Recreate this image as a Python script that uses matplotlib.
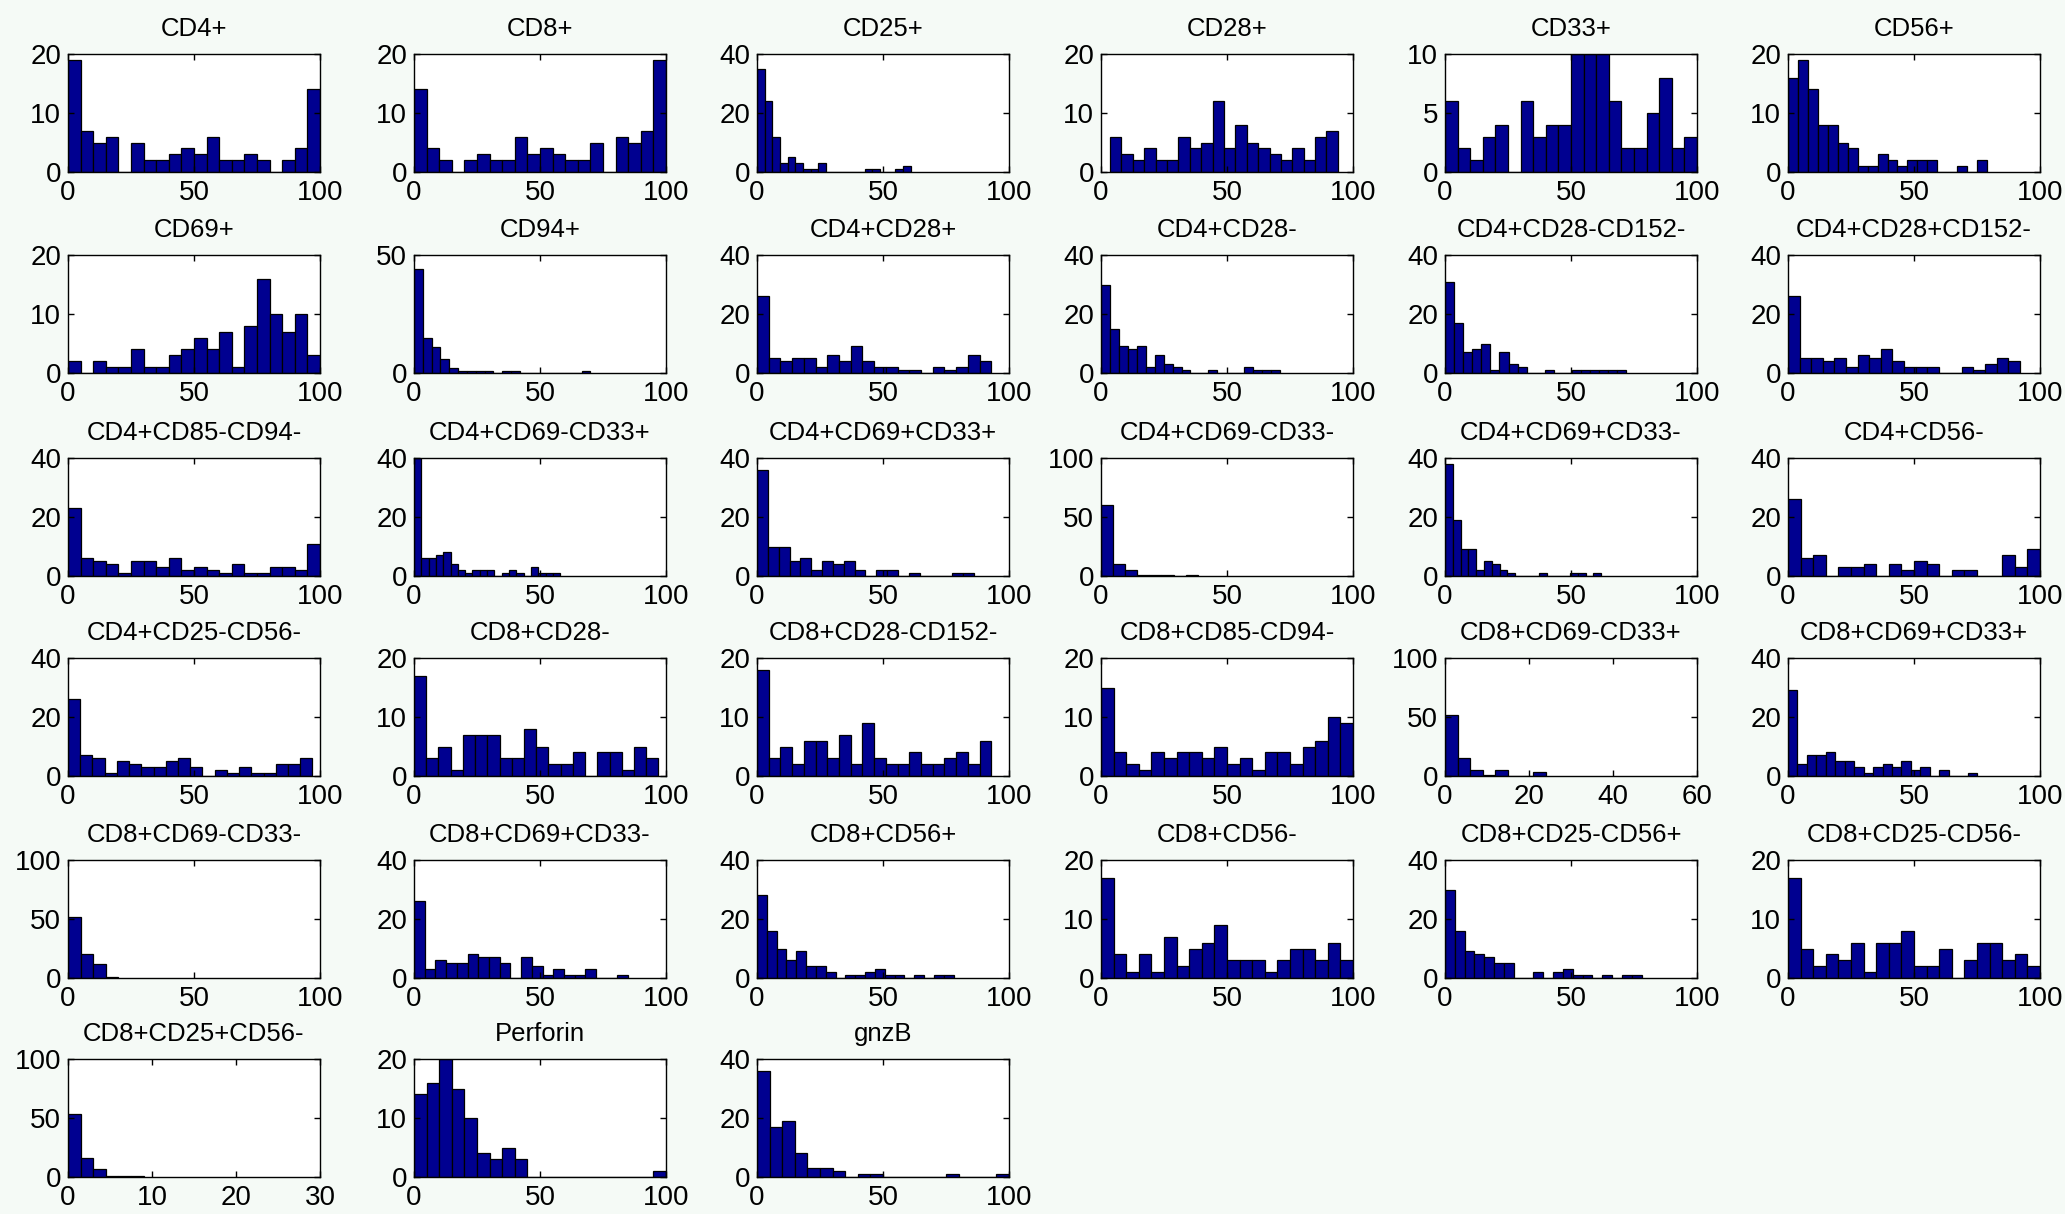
import numpy as np
import matplotlib
matplotlib.use('Agg')
import matplotlib.pyplot as plt

# histogram titles, in grid order (6 per row)
titles = ['CD4+', 'CD8+', 'CD25+', 'CD28+', 'CD33+', 'CD56+',
          'CD69+', 'CD94+', 'CD4+CD28+', 'CD4+CD28-', 'CD4+CD28-CD152-', 'CD4+CD28+CD152-',
          'CD4+CD85-CD94-', 'CD4+CD69-CD33+', 'CD4+CD69+CD33+', 'CD4+CD69-CD33-', 'CD4+CD69+CD33-', 'CD4+CD56-',
          'CD4+CD25-CD56-', 'CD8+CD28-', 'CD8+CD28-CD152-', 'CD8+CD85-CD94-', 'CD8+CD69-CD33+', 'CD8+CD69+CD33+',
          'CD8+CD69-CD33-', 'CD8+CD69+CD33-', 'CD8+CD56+', 'CD8+CD56-', 'CD8+CD25-CD56+', 'CD8+CD25-CD56-',
          'CD8+CD25+CD56-', 'Perforin', 'gnzB']

# bin counts
counts = [
    [19, 7, 5, 6, 0, 5, 2, 2, 3, 4, 3, 6, 2, 2, 3, 2, 0, 2, 4, 14],
    [14, 4, 2, 0, 2, 3, 2, 2, 6, 3, 4, 3, 2, 2, 5, 0, 6, 5, 7, 19],
    [35, 24, 12, 3, 5, 3, 1, 1, 3, 0, 0, 0, 0, 0, 1, 1, 0, 0, 1, 2],
    [6, 3, 2, 4, 2, 2, 6, 4, 5, 12, 4, 8, 5, 4, 3, 2, 4, 2, 6, 7],
    [6, 2, 1, 3, 4, 0, 6, 3, 4, 4, 10, 10, 10, 6, 2, 2, 5, 8, 2, 3],
    [16, 19, 14, 8, 8, 5, 4, 1, 1, 3, 2, 1, 2, 2, 2, 0, 0, 1, 0, 2],
    [2, 0, 2, 1, 1, 4, 1, 1, 3, 4, 6, 4, 7, 1, 8, 16, 10, 7, 10, 3],
    [44, 15, 11, 6, 2, 1, 1, 1, 1, 0, 1, 1, 0, 0, 0, 0, 0, 0, 0, 1],
    [26, 5, 4, 5, 5, 2, 6, 4, 9, 4, 2, 2, 1, 1, 0, 2, 1, 2, 6, 4],
    [30, 15, 9, 8, 9, 2, 6, 3, 2, 1, 0, 0, 1, 0, 0, 0, 2, 1, 1, 1],
    [31, 17, 7, 8, 10, 1, 7, 3, 2, 0, 0, 1, 0, 0, 1, 1, 1, 1, 1, 1],
    [26, 5, 5, 4, 5, 2, 6, 5, 8, 4, 2, 2, 2, 0, 0, 2, 1, 3, 5, 4],
    [23, 6, 5, 4, 1, 5, 5, 3, 6, 2, 3, 2, 1, 4, 1, 1, 3, 3, 2, 11],
    [40, 6, 6, 7, 8, 4, 2, 1, 2, 2, 2, 0, 1, 2, 1, 0, 3, 1, 1, 1],
    [36, 10, 10, 5, 6, 2, 5, 4, 5, 2, 0, 2, 2, 0, 1, 0, 0, 0, 1, 1],
    [60, 10, 5, 1, 1, 1, 0, 1],
    [38, 19, 9, 9, 2, 5, 4, 2, 1, 0, 0, 0, 1, 0, 0, 0, 1, 1, 0, 1],
    [26, 6, 7, 0, 3, 3, 4, 0, 4, 2, 5, 4, 0, 2, 2, 0, 0, 7, 3, 9],
    [26, 7, 6, 1, 5, 4, 3, 3, 5, 6, 3, 0, 2, 1, 3, 1, 1, 4, 4, 6],
    [17, 3, 5, 1, 7, 7, 7, 3, 3, 8, 5, 2, 2, 4, 0, 4, 4, 1, 5, 3],
    [18, 3, 5, 2, 6, 6, 3, 7, 2, 9, 3, 2, 2, 4, 2, 2, 3, 4, 2, 6],
    [15, 4, 2, 1, 4, 3, 4, 4, 3, 5, 2, 3, 1, 4, 4, 2, 5, 6, 10, 9],
    [52, 15, 5, 1, 5, 0, 0, 3],
    [29, 4, 7, 7, 8, 5, 5, 3, 1, 3, 4, 3, 5, 2, 3, 0, 2, 0, 0, 1],
    [52, 20, 12, 1],
    [26, 3, 6, 5, 5, 8, 7, 7, 5, 0, 7, 4, 1, 3, 1, 1, 3, 0, 0, 1],
    [28, 16, 10, 6, 9, 4, 4, 2, 0, 1, 1, 2, 3, 1, 1, 0, 1, 0, 1, 1],
    [17, 4, 1, 4, 1, 7, 2, 5, 6, 9, 3, 3, 3, 1, 3, 5, 5, 3, 6, 3],
    [30, 16, 9, 8, 7, 5, 5, 0, 0, 2, 0, 2, 3, 1, 1, 0, 1, 0, 1, 1],
    [17, 5, 2, 4, 3, 6, 1, 6, 6, 8, 2, 2, 5, 0, 3, 6, 6, 3, 4, 2],
    [53, 16, 7, 1, 1, 1],
    [14, 16, 20, 15, 10, 4, 3, 5, 3, 0, 0, 0, 0, 0, 0, 0, 0, 0, 0, 1],
    [36, 17, 19, 8, 3, 3, 2, 0, 1, 1, 0, 0, 0, 0, 0, 1, 0, 0, 0, 1],
]

# data range covered by the bins
bin_lo = [0, 0, 0, 3.6, 0, 0,
          0, 0, 0, 0, 0, 0,
          0, 0, 0, 0, 0, 0,
          0, 0, 0, 0, 0, 0,
          0, 0, 0, 0, 0, 0,
          0, 0, 0]
bin_hi = [100, 100, 61, 94, 100, 79,
          100, 70, 93, 71, 72, 92,
          100, 58, 86, 38.4, 62, 100,
          97, 97, 93, 100, 24, 75,
          20, 85, 78, 100, 78, 100,
          9, 100, 100]

y_max = [20, 20, 40, 20, 10, 20,
         20, 50, 40, 40, 40, 40,
         40, 40, 40, 100, 40, 40,
         40, 20, 20, 20, 100, 40,
         100, 40, 40, 20, 40, 20,
         100, 20, 40]
x_max = [100] * 33
x_max[22] = 60
x_max[30] = 30

plt.rcParams['font.family'] = ['Liberation Sans', 'DejaVu Sans']

fig = plt.figure(figsize=(20.65, 12.14), dpi=100, facecolor='#f5faf6')

col_left = [68, 414, 757, 1101, 1445, 1788]
row_top = [54, 255, 458, 658, 860, 1059]
ax_w, ax_h = 252, 118
W, H = 2065, 1214

for i, name in enumerate(titles):
    r, c = divmod(i, 6)
    ax = fig.add_axes([col_left[c] / W, 1 - (row_top[r] + ax_h) / H, ax_w / W, ax_h / H])
    ax.set_facecolor('white')
    vals = counts[i]
    edges = np.linspace(bin_lo[i], bin_hi[i], len(vals) + 1)
    ax.bar(edges[:-1], vals, width=np.diff(edges), align='edge',
           color='#000090', edgecolor='black', linewidth=0.9)
    ax.set_xlim(0, x_max[i])
    ax.set_ylim(0, y_max[i])
    step = 50 if x_max[i] == 100 else x_max[i] / 3
    ax.set_xticks(np.arange(0, x_max[i] + 1, step))
    if y_max[i] == 50:
        ax.set_yticks([0, 50])
    else:
        ax.set_yticks([0, y_max[i] / 2, y_max[i]])
    ax.xaxis.set_major_formatter(matplotlib.ticker.FormatStrFormatter('%d'))
    ax.yaxis.set_major_formatter(matplotlib.ticker.FormatStrFormatter('%d'))
    ax.tick_params(direction='in', length=4, width=1, top=True, right=True,
                   labelsize=20)
    ax.tick_params(axis='x', pad=6)
    ax.tick_params(axis='y', pad=5)
    for s in ax.spines.values():
        s.set_linewidth(1.0)
    ax.set_title(name, fontsize=18.5, pad=13)

fig.savefig('out.png', dpi=100, facecolor=fig.get_facecolor())
